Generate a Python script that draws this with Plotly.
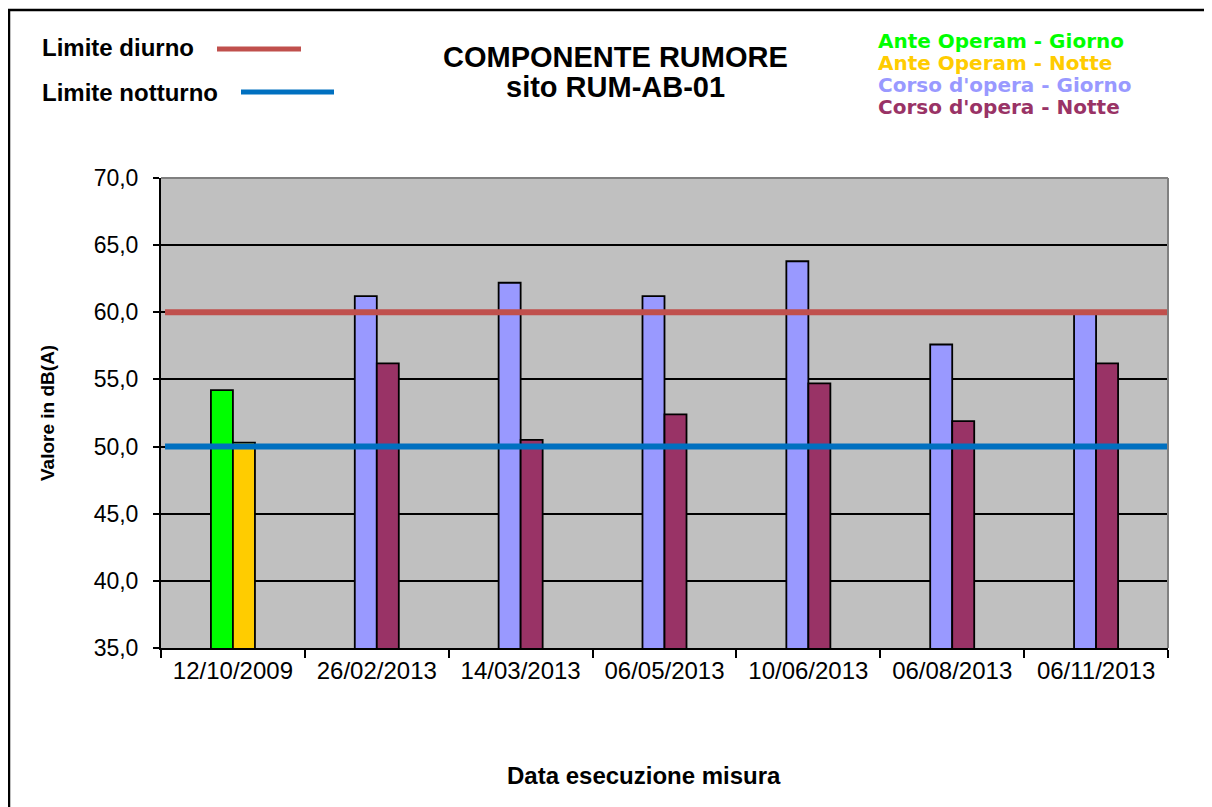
import plotly.graph_objects as go

dates = ["12/10/2009", "26/02/2013", "14/03/2013", "06/05/2013", "10/06/2013", "06/08/2013", "06/11/2013"]
phase = ["Ante Operam", "Corso d'opera", "Corso d'opera", "Corso d'opera", "Corso d'opera", "Corso d'opera", "Corso d'opera"]
giorno = [54.2, 61.2, 62.2, 61.2, 63.8, 57.6, 60.1]
notte = [50.3, 56.2, 50.5, 52.4, 54.7, 51.9, 56.2]
limite_diurno = 60.0
limite_notturno = 50.0

# page is 1212x807, the html body adds an 8px margin
OFF = 8
W, H = 1212 - OFF, 807 - OFF
L, R, T, B = 161, 1168, 178, 648

def px(x):
	return (x - L) / (R - L)

def py(y):
	return (B - y) / (B - T)

col_giorno = {"Ante Operam": "#00FF00", "Corso d'opera": "#9999FF"}
col_notte = {"Ante Operam": "#FFCC00", "Corso d'opera": "#993366"}
red = "#C0504D"
blue = "#0070C0"
font = "Liberation Sans, Arial, sans-serif"
wide = "DejaVu Sans, sans-serif"

bar_giorno = go.Bar(x=dates, y=giorno, name="Giorno",
	marker=dict(color=[col_giorno[p] for p in phase], line=dict(color="black", width=1.8)))
bar_notte = go.Bar(x=dates, y=notte, name="Notte",
	marker=dict(color=[col_notte[p] for p in phase], line=dict(color="black", width=1.8)))

fig = go.Figure(data=[bar_giorno, bar_notte])

shapes = [
	# limit lines across the plot
	dict(type="line", xref="x domain", yref="y", x0=0.004, x1=1, y0=limite_diurno, y1=limite_diurno,
		line=dict(color=red, width=6), layer="above"),
	dict(type="line", xref="x domain", yref="y", x0=0.004, x1=1, y0=limite_notturno, y1=limite_notturno,
		line=dict(color=blue, width=6), layer="above"),
	# plot area gray border top / right
	dict(type="line", xref="paper", yref="paper", x0=0, x1=1, y0=1, y1=1, line=dict(color="#808080", width=2)),
	dict(type="line", xref="paper", yref="paper", x0=1, x1=1, y0=0, y1=1, line=dict(color="#808080", width=2)),
	# legend lines
	dict(type="line", xref="paper", yref="paper", x0=px(217), x1=px(301), y0=py(49), y1=py(49),
		line=dict(color=red, width=5)),
	dict(type="line", xref="paper", yref="paper", x0=px(241), x1=px(334), y0=py(92), y1=py(92),
		line=dict(color=blue, width=5)),
	# outer frame
	dict(type="rect", xref="paper", yref="paper", x0=px(9), x1=px(1230), y0=py(830), y1=py(10),
		line=dict(color="black", width=2.5)),
]

annotations = [
	dict(text="<b>COMPONENTE RUMORE</b>", x=px(615), y=py(57), font=dict(size=29)),
	dict(text="<b>sito RUM-AB-01</b>", x=px(615), y=py(87), font=dict(size=29)),
	dict(text="<b>Limite diurno</b>", x=px(40), y=py(48), xanchor="left", font=dict(size=24)),
	dict(text="<b>Limite notturno</b>", x=px(40), y=py(92), xanchor="left", font=dict(size=24)),
	dict(text="<b>Ante Operam - Giorno</b>", x=px(876), y=py(41), xanchor="left",
		font=dict(size=20, color=col_giorno["Ante Operam"], family=wide)),
	dict(text="<b>Ante Operam - Notte</b>", x=px(876), y=py(63), xanchor="left",
		font=dict(size=20, color=col_notte["Ante Operam"], family=wide)),
	dict(text="<b>Corso d'opera - Giorno</b>", x=px(876), y=py(85), xanchor="left",
		font=dict(size=20, color=col_giorno["Corso d'opera"], family=wide)),
	dict(text="<b>Corso d'opera - Notte</b>", x=px(876), y=py(107), xanchor="left",
		font=dict(size=20, color=col_notte["Corso d'opera"], family=wide)),
	dict(text="<b>Valore in dB(A)</b>", x=px(47), y=0.5, textangle=-90, font=dict(size=19)),
	dict(text="<b>Data esecuzione misura</b>", x=px(644), y=py(775), font=dict(size=24)),
]
for a in annotations:
	a.update(xref="paper", yref="paper", showarrow=False)
	a.setdefault("xanchor", "center")
	a["yanchor"] = "middle"
	a["font"].setdefault("color", "black")
	a["font"].setdefault("family", font)

fig.update_layout(
	width=W, height=H,
	margin=dict(l=L - OFF, r=1212 - R, t=T - OFF, b=807 - B, pad=0),
	paper_bgcolor="white", plot_bgcolor="#C0C0C0",
	barmode="group", bargap=0.694, bargroupgap=0,
	showlegend=False,
	separators=",.",
	font=dict(family=font, color="black"),
	shapes=shapes, annotations=annotations,
)
fig.update_xaxes(
	type="category", tickson="boundaries", ticks="outside", ticklen=8, tickwidth=2, tickcolor="black",
	showline=True, linecolor="black", linewidth=2, showgrid=False,
	tickfont=dict(size=24, color="black"),
)
fig.update_yaxes(
	range=[35, 70], dtick=5, tickformat=".1f", ticks="outside", ticklen=6, tickwidth=2, tickcolor="black",
	showline=True, linecolor="black", linewidth=2,
	showgrid=True, gridcolor="black", gridwidth=1.5, zeroline=False,
	tickfont=dict(size=23, color="black"), ticklabelstandoff=10,
)

fig.write_html("out.html")
